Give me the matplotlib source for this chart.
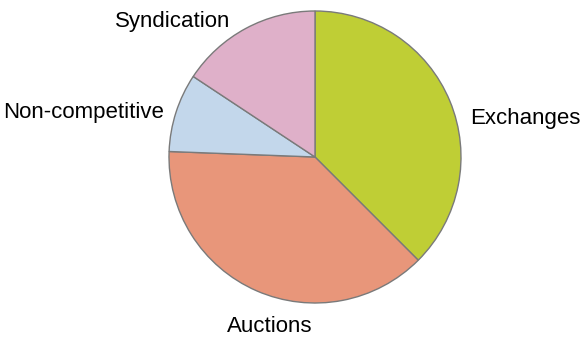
import matplotlib
matplotlib.use("Agg")
import matplotlib.pyplot as plt

categories = ["Exchanges", "Auctions", "Non-competitive", "Syndication"]
shares = [37.5, 38.1, 8.7, 15.7]
colors = ["#BFCE35", "#E8967A", "#C3D7EB", "#DFB0C9"]

W, H = 585, 338
fig = plt.figure(figsize=(W / 100, H / 100), dpi=100)
ax = fig.add_axes([0, 0, 1, 1])

cx, cy, r = 315, H - 157, 146
ax.pie(shares, colors=colors, startangle=90, counterclock=False,
       center=(cx, cy), radius=r, frame=True,
       wedgeprops=dict(edgecolor="#7A7A7A", linewidth=1.0))
ax.set_xlim(0, W)
ax.set_ylim(0, H)
ax.set_aspect("equal")
ax.axis("off")

font = dict(family="Liberation Sans", fontsize=16, color="#000000")
# label anchors: (x, baseline y from top, horizontal alignment)
label_pos = {
    "Exchanges": (470, 124, "left"),
    "Auctions": (270, 332, "center"),
    "Non-competitive": (164, 118, "right"),
    "Syndication": (173, 27, "center"),
}
for name in categories:
    x, yb, ha = label_pos[name]
    ax.text(x, H - yb, name, ha=ha, va="baseline", **font)

fig.savefig("out.png", dpi=100)
